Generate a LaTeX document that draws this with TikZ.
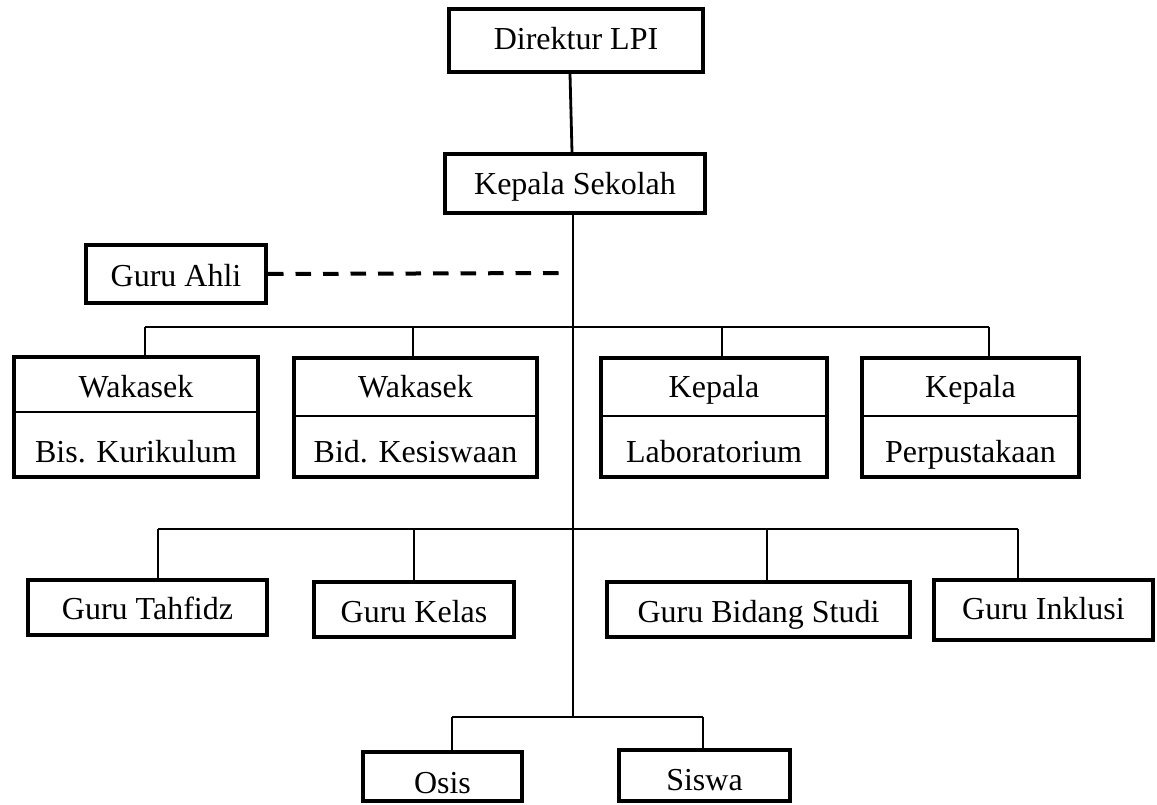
\documentclass[tikz,border=0pt]{standalone}
\usepackage{fontspec}
\setmainfont{Liberation Serif}
\begin{document}
\begin{tikzpicture}[x=1pt,y=-1pt,
  box/.style={draw, line width=4pt, inner sep=0pt},
  lbl/.style={inner sep=0pt, anchor=base, font=\fontsize{32}{38}\selectfont},
  conn/.style={line width=2.8pt},
  divline/.style={line width=2pt},
  dashline/.style={line width=4pt, dash pattern=on 15.5pt off 12pt}]
\useasboundingbox (0,0) rectangle (1157,805);
\newcommand{\orgbox}[5]{\node[box, minimum width={#4-#2-4}, minimum height={#5-#3-4}] (#1) at ({(#2+#4)/2},{(#3+#5)/2}) {};}
% boxes
\orgbox{dir}{447}{7}{705}{74}
\orgbox{ks}{443}{152}{707}{215}
\orgbox{ahli}{84}{243}{268}{305}
\orgbox{w1}{12}{355}{260}{479}
\orgbox{w2}{292}{356}{539}{479}
\orgbox{kl}{599}{356}{829}{479}
\orgbox{kp}{860}{356}{1081}{479}
\orgbox{gt}{26}{578}{269}{637}
\orgbox{gk}{312}{580}{516}{639}
\orgbox{gb}{605}{580}{912}{639}
\orgbox{gi}{932}{578}{1155}{642}
\orgbox{os}{361}{750}{524}{803}
\orgbox{sw}{617}{748}{792}{803}
% dividers
\draw[divline] (w1.west |- 0,412) -- (w1.east |- 0,412);
\draw[divline] (w2.west |- 0,416) -- (w2.east |- 0,416);
\draw[divline] (kl.west |- 0,416) -- (kl.east |- 0,416);
\draw[divline] (kp.west |- 0,416) -- (kp.east |- 0,416);
% texts
\node[lbl] (tdir) at (dir.center |- 0,50) {Direktur LPI};
\node[lbl] (tks) at (ks.center |- 0,195) {Kepala Sekolah};
\node[lbl] (tahli) at (ahli.center |- 0,287) {Guru Ahli};
\node[lbl] (tw1a) at (w1.center |- 0,397) {Wakasek};
\node[lbl] (tw1b) at (w1.center |- 0,462) {Bis. Kurikulum};
\node[lbl] (tw2a) at (w2.center |- 0,397) {Wakasek};
\node[lbl] (tw2b) at (w2.center |- 0,462) {Bid. Kesiswaan};
\node[lbl] (tkla) at (kl.center |- 0,397) {Kepala};
\node[lbl] (tklb) at (kl.center |- 0,462) {Laboratorium};
\node[lbl] (tkpa) at (kp.center |- 0,397) {Kepala};
\node[lbl] (tkpb) at (kp.center |- 0,462) {Perpustakaan};
\node[lbl] (tgt) at (gt.center |- 0,619) {Guru Tahfidz};
\node[lbl] (tgk) at (gk.center |- 0,622) {Guru Kelas};
\node[lbl] (tgb) at (gb.center |- 0,622) {Guru Bidang Studi};
\node[lbl] (tgi) at (gi.center |- 0,619) {Guru Inklusi};
\node[lbl] (tos) at (os.center |- 0,793) {Osis};
\node[lbl] (tsw) at (sw.center |- 0,790) {Siswa};
% junction coordinates
\coordinate (dtop) at (570,74);
\coordinate (ktop) at (572,152);
\coordinate (kbot) at (573,215);
\coordinate (b1l) at (145,327);
\coordinate (b1b) at (413,327);
\coordinate (b1c) at (722,327);
\coordinate (b1r) at (989,327);
\coordinate (b2l) at (158,529);
\coordinate (b2b) at (414,529);
\coordinate (b2c) at (767,529);
\coordinate (b2r) at (1018,529);
\coordinate (b3l) at (452,717);
\coordinate (b3r) at (703,717);
\coordinate (dend) at (564,273);
% connectors
\draw[conn] (dtop) -- (ktop);
\draw[conn] (kbot) -- (kbot |- b3l);
\draw[dashline] (ahli.east) -- (dend);
\draw[conn] (b1l) -- (b1r);
\draw[conn] (b1l) -- (b1l |- w1.north);
\draw[conn] (b1b) -- (b1b |- w2.north);
\draw[conn] (b1c) -- (b1c |- kl.north);
\draw[conn] (b1r) -- (b1r |- kp.north);
\draw[conn] (b2l) -- (b2r);
\draw[conn] (b2l) -- (b2l |- gt.north);
\draw[conn] (b2b) -- (b2b |- gk.north);
\draw[conn] (b2c) -- (b2c |- gb.north);
\draw[conn] (b2r) -- (b2r |- gi.north);
\draw[conn] (b3l) -- (b3r);
\draw[conn] (b3l) -- (b3l |- os.north);
\draw[conn] (b3r) -- (b3r |- sw.north);
\end{tikzpicture}
\end{document}
